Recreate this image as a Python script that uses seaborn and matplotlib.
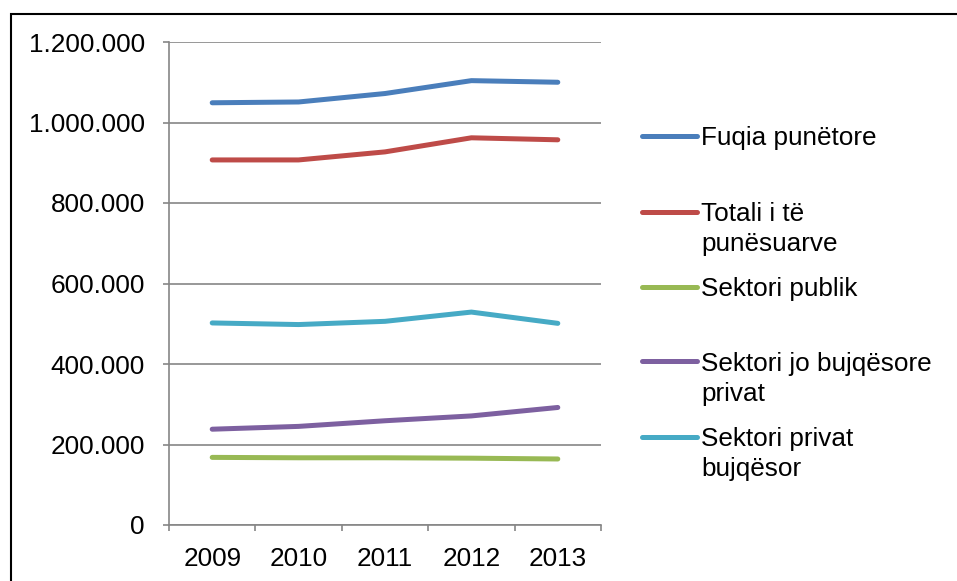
import matplotlib
matplotlib.use("Agg")
import matplotlib.pyplot as plt
from matplotlib.lines import Line2D
from matplotlib.patches import Rectangle
from matplotlib.ticker import FuncFormatter, FixedLocator
import pandas as pd
import seaborn as sns

years = ["2009", "2010", "2011", "2012", "2013"]
series_names = [
    "Fuqia punëtore",
    "Totali i të\npunësuarve",
    "Sektori publik",
    "Sektori jo bujqësore\nprivat",
    "Sektori privat\nbujqësor",
]
fuqia_punetore = [1049000, 1051000, 1072000, 1104000, 1100000]
totali_punesuarve = [907000, 907000, 927000, 962000, 957000]
sektori_publik = [168000, 167000, 167000, 166000, 164000]
sektori_jo_bujqesor_privat = [238000, 245000, 259000, 271000, 292000]
sektori_privat_bujqesor = [502000, 498000, 506000, 529000, 501000]
y_ticks = [0, 200000, 400000, 600000, 800000, 1000000, 1200000]

colors = ["#4A7EBB", "#BE4B48", "#98B954", "#7D60A0", "#46AAC5"]
grey = "#868686"

all_values = [fuqia_punetore, totali_punesuarve, sektori_publik,
              sektori_jo_bujqesor_privat, sektori_privat_bujqesor]
df = pd.DataFrame({
    "viti": years * len(series_names),
    "vlera": [v for vals in all_values for v in vals],
    "seria": [n for n in series_names for _ in years],
})

sns.set_style("white")
plt.rcParams["font.family"] = ["Liberation Sans", "DejaVu Sans"]
fs = 18.8

W, H = 957, 581
fig = plt.figure(figsize=(W / 100, H / 100), dpi=100)
ax = fig.add_axes([169 / W, 1 - 525 / H, 432 / W, 483 / H])

sns.lineplot(data=df, x="viti", y="vlera", hue="seria", hue_order=series_names,
             palette=colors, linewidth=3.6, legend=False, sort=False, ax=ax,
             solid_capstyle="round", solid_joinstyle="round", zorder=3)

ax.set_xlim(-0.5, len(years) - 0.5)
ax.set_ylim(0, 1200000)
ax.set_yticks(y_ticks)
ax.yaxis.set_major_formatter(FuncFormatter(lambda v, p: f"{int(v):,}".replace(",", ".")))
ax.set_xticks(range(len(years)))
ax.set_xticklabels(years)
ax.xaxis.set_minor_locator(FixedLocator([i - 0.5 for i in range(len(years) + 1)]))
ax.set_xlabel("")
ax.set_ylabel("")

ax.grid(axis="y", color=grey, linewidth=1.2, zorder=0)
ax.grid(axis="x", visible=False)
for side in ("top", "right"):
    ax.spines[side].set_visible(False)
for side in ("left", "bottom"):
    ax.spines[side].set_color(grey)
    ax.spines[side].set_linewidth(1.2)

ax.tick_params(axis="y", which="major", direction="out", length=4.5, width=1.2,
               color=grey, pad=13, labelsize=fs, labelcolor="black", left=True)
ax.tick_params(axis="x", which="major", length=0, pad=15.5, labelsize=fs,
               labelcolor="black")
ax.tick_params(axis="x", which="minor", direction="out", length=4.5, width=1.2,
               color=grey, bottom=True)

# legend: coloured line beside the first line of each label
line_ys = [135.7, 211.7, 286.7, 361.0, 436.7]
line_step = 30.0
for name, col, ly in zip(series_names, colors, line_ys):
    yf = 1 - ly / H
    fig.add_artist(Line2D([642 / W, 697 / W], [yf, yf], color=col, linewidth=3.6,
                          solid_capstyle="round", transform=fig.transFigure))
    for k, part in enumerate(name.split("\n")):
        fig.text(701 / W, 1 - (ly + 9.5 + k * line_step) / H, part, fontsize=fs,
                 va="baseline", ha="left", color="black")

# outer frame of the chart area
fig.add_artist(Rectangle((10.5 / W, -0.2), 2.0, 1.2 - 13.5 / H,
                         transform=fig.transFigure, fill=False,
                         edgecolor="black", linewidth=1.5))

fig.savefig("out.png", dpi=100)
